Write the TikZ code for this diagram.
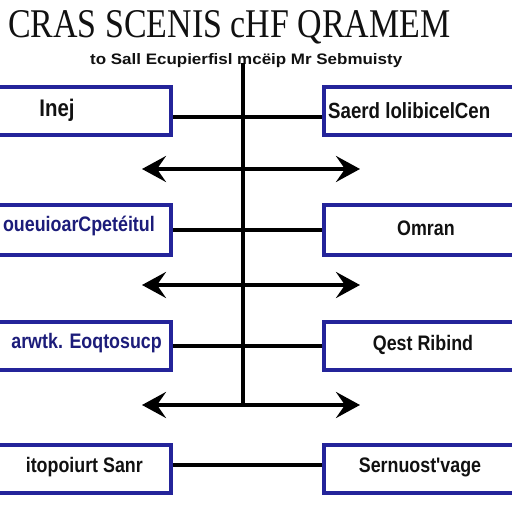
\documentclass[tikz,border=0pt]{standalone}
\usepackage{fontspec}
\usepackage{graphicx}
\newfontfamily\boxfont[FakeStretch=0.85]{Liberation Sans}
\newfontfamily\subfont{Liberation Sans}
\newfontfamily\titlefont{Liberation Serif}
\usetikzlibrary{arrows.meta}
\definecolor{boxblue}{HTML}{24249A}
\definecolor{txtblue}{HTML}{1C1C7A}
\definecolor{ink}{HTML}{111111}
\begin{document}
\begin{tikzpicture}[x=1pt,y=-1pt,
  box/.style={draw=boxblue, line width=3.8pt, fill=white, minimum height=48pt, inner sep=0pt},
  conn/.style={line width=4.8pt, draw=black},
  dbl/.style={line width=4.8pt, draw=black,
    {Stealth[length=24pt,width=26pt,inset=9pt]}-{Stealth[length=24pt,width=26pt,inset=9pt]}},
  lbl/.style={font=\boxfont\bfseries\fontsize{21}{21}\selectfont, inner sep=0pt, text=ink},
  lblb/.style={lbl, text=txtblue}]
\fill[white] (0,0) rectangle (512,512);
\clip (0,0) rectangle (512,512);
% title
\node[inner sep=0pt, anchor=base west, text=ink] (title) at (8,37)
  {\resizebox{442pt}{27pt}{\titlefont CRAS SCENIS cHF QRAMEM}};
\node[inner sep=0pt, anchor=base west, text=ink] (sub) at (90,64)
  {\resizebox{312pt}{11pt}{\subfont\bfseries to Sall Ecupierfisl mc\"eip Mr Sebmuisty}};
% boxes
\node[box, minimum width=185pt, minimum height=48pt, anchor=north east] (L1) at (173,85) {};
\node[box, minimum width=185pt, minimum height=50pt, anchor=north east] (L2) at (173,203) {};
\node[box, minimum width=185pt, minimum height=48pt, anchor=north east] (L3) at (173,320) {};
\node[box, minimum width=185pt, minimum height=48pt, anchor=north east] (L4) at (173,443) {};
\node[box, minimum width=200pt, minimum height=48pt, anchor=north west] (R1) at (322,85) {};
\node[box, minimum width=200pt, minimum height=50pt, anchor=north west] (R2) at (322,203) {};
\node[box, minimum width=200pt, minimum height=48pt, anchor=north west] (R3) at (322,320) {};
\node[box, minimum width=200pt, minimum height=48pt, anchor=north west] (R4) at (322,443) {};
% labels
\node[lbl, font=\boxfont\bfseries\fontsize{24}{24}\selectfont] (t1) at (57,110) {Inej};
\node[lblb, anchor=east] (t2) at (155,226) {oueuioarCpet\'eitul};
\node[lblb, anchor=east] (t3) at (162,343) {arwtk. Eoqtosucp};
\node[lbl, anchor=east] (t4) at (143,467) {itopoiurt Sanr};
\node[lbl, anchor=west, font=\boxfont\bfseries\fontsize{22}{22}\selectfont] (u1) at (328,111) {Saerd lolibicelCen};
\node[lbl] (u2) at (426,228) {Omran};
\node[lbl] (u3) at (423,345) {Qest Ribind};
\node[lbl] (u4) at (420,467) {Sernuost'vage};
% spine
\coordinate (vt) at (243,63);
\coordinate (vb) at (243,405);
\draw[conn] (vt) -- (vb);
% connectors
\draw[conn] ([yshift=-6pt]L1.east) -- ([yshift=-6pt]R1.west);
\draw[conn] (L2.east) -- (R2.west);
\draw[conn] (L3.east) -- (R3.west);
\draw[conn] ([yshift=4pt]L4.east) -- ([yshift=4pt]R4.west);
% arrows
\coordinate (a1l) at (142,169); \coordinate (a1r) at (360,169);
\coordinate (a2l) at (142,285); \coordinate (a2r) at (360,285);
\coordinate (a3l) at (142,405); \coordinate (a3r) at (360,405);
\draw[dbl] (a1l) -- (a1r);
\draw[dbl] (a2l) -- (a2r);
\draw[dbl] (a3l) -- (a3r);
\end{tikzpicture}
\end{document}
